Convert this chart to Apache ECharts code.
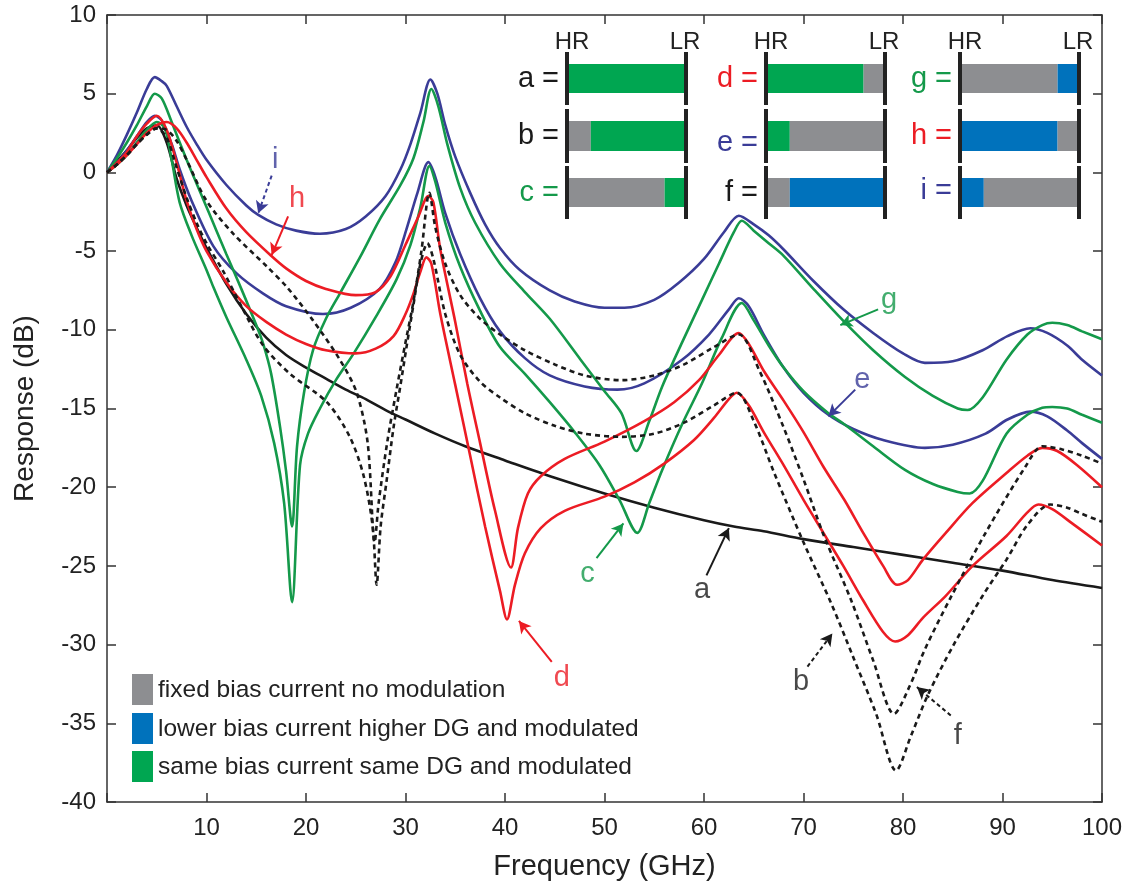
<!DOCTYPE html>
<html>
<head>
<meta charset="utf-8">
<script src="https://cdn.jsdelivr.net/npm/echarts@6/dist/echarts.min.js"></script>
<style>html,body{margin:0;padding:0;background:#fff}#c{width:1134px;height:886px}</style>
</head>
<body>
<div id="c"></div>
<script>
// ---------- data (GHz, dB) ----------
const xTicks = [0,10,20,30,40,50,60,70,80,90,100];
const yTicks = [-40,-35,-30,-25,-20,-15,-10,-5,0,5,10];

const curveA = [[0,0],[1,0.7],[2,1.4],[3,2.2],[4,2.8],[5,3.0],[6,1.9],[7,-0.4],[8,-2.1],[9,-3.5],[10,-4.8],[12,-7.1],[14,-9.0],[16,-10.5],[18,-11.6],[20,-12.4],[22,-13.1],[24,-13.8],[26,-14.4],[28,-15.1],[30,-15.7],[33,-16.6],[36,-17.4],[40,-18.3],[45,-19.4],[50,-20.4],[55,-21.3],[60,-22.1],[63,-22.5],[66,-22.8],[70,-23.3],[75,-23.8],[80,-24.3],[85,-24.8],[90,-25.3],[95,-25.9],[100,-26.4]];

const curveB = [[0,0],[1,0.5],[2,1.1],[3,1.8],[4,2.4],[5,2.8],[6,2.2],[7,0.3],[8,-1.6],[9,-3.2],[10,-4.5],[11.7,-6.3],[13.5,-8.5],[15.7,-11.0],[18.4,-12.8],[22.1,-14.6],[24.4,-16.8],[25.8,-19.3],[26.7,-22.5],[27.1,-26.2],[27.5,-22.5],[28.1,-19.6],[28.8,-16.2],[29.5,-13.5],[30.1,-11.1],[30.8,-8.4],[31.5,-5.8],[32.2,-4.5],[32.8,-5.5],[34,-9.0],[35.5,-11.6],[37.5,-13.3],[39.5,-14.3],[42,-15.3],[45,-16.1],[48,-16.6],[51.7,-16.8],[55,-16.6],[58,-15.9],[61,-14.8],[63.3,-14.0],[65,-15.8],[67,-19.0],[70,-23.5],[72.8,-27.4],[75,-30.8],[77.3,-34.4],[79.3,-38.0],[80.8,-35.8],[82.5,-33.2],[85.1,-30.0],[88.1,-26.8],[90.4,-24.6],[92.5,-22.4],[94.8,-21.1],[96.5,-21.3],[98,-21.7],[100,-22.2]];

const curveC = [[0,0],[1,0.5],[2,1.1],[3,1.9],[4,2.7],[5,3.2],[5.8,2.8],[6.5,0.8],[7.3,-1.9],[8.5,-4.0],[10,-6.2],[10.7,-7.3],[12,-9.2],[14,-11.9],[15.5,-14.2],[16.8,-17.2],[17.8,-21.0],[18.6,-27.3],[19.4,-18.6],[20.2,-16.6],[21.4,-15.0],[23,-13.2],[24.8,-11.5],[27,-9.2],[29.1,-6.8],[30.5,-4.6],[31.5,-2.2],[32.4,0.4],[33,-0.6],[34,-3.2],[35.5,-6.0],[37.5,-8.8],[39.5,-11.1],[42,-12.8],[44.5,-14.6],[47,-16.5],[49.5,-18.6],[51.5,-20.8],[53.3,-22.9],[54.5,-21.0],[55.8,-18.9],[57.8,-16.0],[59.8,-13.4],[61.8,-10.5],[63.8,-8.3],[65,-9.4],[66.5,-11.0],[68,-12.4],[70,-13.9],[72.5,-15.3],[74.1,-16.0],[77,-17.4],[80.2,-18.9],[83,-19.8],[85.5,-20.3],[86.7,-20.4],[88,-19.6],[90.4,-16.6],[92.5,-15.4],[94,-14.95],[95,-14.9],[96.5,-15.0],[98,-15.4],[100,-15.9]];

const curveD = [[0,0],[1,0.6],[2,1.3],[3,2.3],[4,3.1],[5,3.6],[6,2.7],[7,0.6],[8,-1.8],[9,-3.6],[10,-5.0],[12,-7.0],[14,-8.5],[16,-9.5],[18,-10.3],[20,-10.9],[22,-11.3],[25,-11.5],[27,-11.2],[28.8,-10.4],[30,-9.0],[30.8,-7.7],[31.5,-6.3],[32.1,-5.4],[32.6,-5.8],[33.5,-9.0],[35,-13.5],[36.5,-18.0],[38,-22.5],[39.5,-26.6],[40.2,-28.4],[41,-26.2],[42,-24.2],[43.6,-22.6],[46,-21.5],[50,-20.6],[53,-19.7],[56,-18.5],[59,-17.0],[61,-15.6],[62.5,-14.4],[63.3,-14.0],[64.5,-14.8],[66,-16.5],[68,-18.6],[70,-20.8],[72,-22.9],[74,-25.0],[76,-27.2],[78,-29.2],[79.2,-29.8],[80.5,-29.4],[82,-28.3],[84.3,-26.9],[87,-25.0],[90.4,-23.1],[92.5,-21.6],[93.6,-21.1],[95,-21.4],[97,-22.3],[100,-23.7]];

const curveE = [[0,0],[1,0.6],[2,1.4],[3,2.3],[4,3.2],[4.8,3.6],[5.5,3.3],[6.5,1.8],[7.3,0.2],[8.5,-1.8],[10.7,-4.7],[13,-6.4],[15.7,-7.7],[18,-8.5],[21.7,-9.0],[24.5,-8.6],[27.4,-7.4],[29,-5.7],[30.1,-3.6],[31.2,-1.3],[32.3,0.65],[33,-0.3],[34,-2.6],[35.5,-5.2],[37.5,-8.0],[39.5,-10.1],[42,-11.8],[44.5,-12.9],[48,-13.6],[51.3,-13.8],[54,-13.4],[57.8,-11.9],[60.5,-10.3],[62.5,-8.7],[63.5,-8.0],[64.5,-8.5],[66,-10.3],[68,-12.4],[70,-14.0],[72.5,-15.4],[75,-16.3],[78,-17.0],[82.2,-17.5],[85,-17.3],[88.3,-16.6],[90.5,-15.7],[92.8,-15.2],[94.5,-15.5],[96.5,-16.4],[98,-17.2],[100,-18.2]];

const curveF = [[0,0],[1,0.5],[2,1.1],[3,1.8],[4,2.4],[5,2.8],[6,2.7],[7,2.0],[8,0.8],[10,-1.8],[12.7,-3.9],[16.1,-6.0],[18.1,-7.3],[20.7,-9.4],[23.4,-11.9],[25.1,-14.0],[26.2,-17.2],[26.9,-23.5],[27.3,-21.0],[28.2,-17.0],[29.1,-13.8],[30,-10.8],[30.8,-8.2],[31.6,-5.0],[32.4,-1.3],[33,-3.5],[34,-5.8],[35.5,-7.8],[37.5,-9.3],[39.5,-10.3],[42,-11.3],[45,-12.2],[48,-12.9],[51.7,-13.2],[55,-12.9],[58,-12.2],[61,-11.1],[63.5,-10.3],[65.5,-12.5],[68,-16.2],[70,-19.5],[72,-23.0],[74.8,-27.2],[77,-31.0],[79.1,-34.4],[80.7,-32.6],[82.2,-30.3],[84.8,-27.0],[88.3,-22.9],[92.3,-18.7],[94,-17.4],[96,-17.6],[98,-18.0],[100,-18.5]];

const curveG = [[0,0],[1,0.9],[2,1.9],[3,3.0],[4,4.2],[4.8,5.0],[5.5,4.7],[6.5,3.2],[8,0.8],[9,-0.7],[10,-2.2],[11,-3.7],[12,-5.2],[13.5,-7.4],[15,-9.7],[15.7,-10.9],[16.5,-12.8],[17.4,-16.2],[18,-19.0],[18.6,-22.5],[19.1,-17.4],[19.8,-14.0],[20.7,-11.3],[22,-9.3],[23.4,-7.7],[25.5,-5.3],[27.4,-3.0],[29.5,-0.8],[30.8,0.9],[31.8,3.2],[32.6,5.3],[33.3,4.2],[34.2,1.8],[35.5,-1.0],[37,-3.2],[39.5,-5.8],[42,-7.6],[44.5,-9.3],[47.6,-11.9],[50,-13.9],[51.7,-15.3],[53.2,-17.7],[54.5,-15.8],[55.8,-13.6],[57.8,-10.8],[59.8,-8.1],[61.5,-5.8],[63,-3.8],[63.8,-3.07],[65,-3.7],[66.5,-4.5],[68,-5.3],[71,-7.4],[74.1,-9.5],[77,-11.3],[80.2,-13.0],[83,-14.2],[85.5,-15.0],[86.5,-15.1],[88,-14.3],[90.4,-11.9],[92.5,-10.3],[94,-9.7],[95,-9.55],[96.5,-9.7],[98,-10.1],[100,-10.6]];

const curveH = [[0,0],[1,0.5],[2,1.1],[3,1.8],[4,2.5],[5,3.0],[6,3.2],[7,2.8],[8,1.9],[9,0.8],[10,-0.3],[12,-2.3],[14,-3.8],[16.5,-5.3],[18,-6.1],[20,-6.9],[22,-7.4],[25,-7.8],[27,-7.6],[28.5,-6.6],[30,-4.6],[31.3,-2.8],[32.3,-1.5],[32.8,-1.9],[33.5,-4.9],[35,-9.5],[36.2,-13.4],[37.5,-17.2],[39,-21.5],[40.6,-25.1],[41.3,-22.6],[42.3,-20.4],[43.6,-19.3],[46,-18.2],[50,-17.1],[54,-15.8],[57,-14.6],[59.5,-13.2],[61.5,-11.6],[63.5,-10.2],[64.5,-10.9],[66,-12.6],[68,-14.5],[70,-16.5],[72,-18.7],[74.1,-20.8],[76,-22.9],[78,-25.0],[79.4,-26.2],[80.5,-25.9],[82,-24.6],[84.3,-22.9],[87,-21.0],[90.4,-19.1],[92.5,-18.0],[94,-17.5],[95.5,-17.7],[97.5,-18.6],[100,-20.0]];

const curveI = [[0,0],[1,1.1],[2,2.4],[3,3.8],[4,5.3],[4.8,6.05],[5.5,5.8],[6,5.5],[7,4.2],[8,2.9],[9,1.8],[10,0.8],[12,-0.8],[14,-2.1],[15.2,-2.7],[17,-3.3],[19,-3.7],[21.4,-3.9],[24,-3.6],[26,-2.8],[28,-1.5],[29.5,0.2],[30.5,1.8],[31.5,3.8],[32.5,5.9],[33.2,5.0],[34,3.0],[35,1.0],[36.5,-1.3],[38,-3.3],[39.5,-4.8],[41.5,-6.2],[44.5,-7.5],[47,-8.2],[50,-8.6],[52,-8.6],[55,-8.1],[57.5,-7.0],[60,-5.5],[62,-3.8],[63.5,-2.75],[65,-3.3],[66.5,-4.0],[68,-4.9],[71,-6.9],[74,-8.7],[77,-10.2],[80,-11.5],[82.2,-12.1],[85,-12.0],[88,-11.3],[90.5,-10.4],[92.8,-9.9],[94.5,-10.2],[96.5,-11.0],[98,-11.9],[100,-12.9]];

// curve annotations: [name, labelX, labelY, arrowFromX, arrowFromY, arrowToX, arrowToY, dashed]
const annotations = [
  ['i', 16.9, 0.8, 16.55, -0.2, 15.2, -2.6, true],
  ['h', 19.1, -1.7, 18.2, -2.8, 16.55, -5.25, false],
  ['g', 78.6, -8.1, 77.5, -8.7, 73.7, -9.7, false],
  ['e', 75.9, -13.2, 75.2, -13.8, 72.5, -15.5, false],
  ['c', 48.3, -25.5, 49.2, -24.5, 51.9, -22.3, false],
  ['a', 59.8, -26.5, 60.25, -25.6, 62.5, -22.6, false],
  ['d', 45.7, -32.1, 44.7, -31.1, 41.4, -28.5, false],
  ['b', 69.75, -32.4, 70.4, -31.4, 72.9, -29.3, true],
  ['f', 85.5, -35.8, 84.8, -34.5, 81.4, -32.7, true]
];

// inset composition: fractions of bar from HR to LR
const insetRows = [
  ['a', [['G',1.0]]],
  ['b', [['S',0.2],['G',0.8]]],
  ['c', [['S',0.82],['G',0.18]]],
  ['d', [['G',0.82],['S',0.18]]],
  ['e', [['G',0.2],['S',0.8]]],
  ['f', [['S',0.2],['B',0.8]]],
  ['g', [['S',0.82],['B',0.18]]],
  ['h', [['B',0.82],['S',0.18]]],
  ['i', [['B',0.2],['S',0.8]]]
];
const legendItems = [
  ['S','fixed bias current no modulation'],
  ['B','lower bias current higher DG and modulated'],
  ['G','same bias current same DG and modulated']
];

// ---------- styles ----------
const RED = '#ec1c24', NAVY = '#3a3c97', GRN = '#14994a', BLK = '#1a1a1a';
const fillCol = {S:'#8d8e91', B:'#0072bc', G:'#00a651'};
const curveColor = {a:BLK,b:BLK,c:GRN,d:RED,e:NAVY,f:BLK,g:GRN,h:RED,i:NAVY};
const FONT = '"Liberation Sans", Arial, sans-serif';

const chart = echarts.init(document.getElementById('c'), null, {renderer:'canvas'});

function lineSeries(name, data, dashed){
  return {
    name, type:'line', data, showSymbol:false, symbol:'none', smooth:0.3,
    lineStyle:{color:curveColor[name], width:2.6, type: dashed ? [5,4] : 'solid'},
    z: dashed ? 3 : 2
  };
}

const series = [
  lineSeries('a', curveA, false),
  lineSeries('i', curveI, false),
  lineSeries('e', curveE, false),
  lineSeries('g', curveG, false),
  lineSeries('c', curveC, false),
  lineSeries('h', curveH, false),
  lineSeries('d', curveD, false),
  lineSeries('b', curveB, true),
  lineSeries('f', curveF, true)
];

// arrows via markLine
series.push({
  type:'line', data:[], silent:true,
  markLine:{
    silent:true, symbol:['none','arrow'], symbolSize:[10,12], animation:false,
    label:{show:false},
    data: annotations.map(a => [
      {coord:[a[3],a[4]], lineStyle:{color:curveColor[a[0]], width:2, type: a[7] ? [4,3] : 'solid'}, itemStyle:{color:curveColor[a[0]]}},
      {coord:[a[5],a[6]]}
    ])
  }
});
// labels via scatter
series.push({
  type:'scatter', silent:true, symbolSize:2, itemStyle:{color:'rgba(0,0,0,0)'},
  data: annotations.map(a => ({value:[a[1],a[2]], name:a[0],
    label:{show:true, position:'inside', formatter:a[0], color:curveColor[a[0]], fontSize:29, fontFamily:FONT}})),
  z:5
});

// ---------- inset graphic ----------
const cols = [{hr:567, lr:686}, {hr:766, lr:885}, {hr:960, lr:1079}];
const rowsY = [[64,93],[121,151],[178,207]];
const labelYOffset = {e:7, i:-2};
const graphics = [];
cols.forEach((c, ci) => {
  graphics.push({type:'text', x:c.hr + 5, y:42, style:{text:'HR', fontSize:24, fontFamily:FONT, fill:'#222', align:'center', verticalAlign:'middle'}});
  graphics.push({type:'text', x:c.lr - 1, y:42, style:{text:'LR', fontSize:24, fontFamily:FONT, fill:'#222', align:'center', verticalAlign:'middle'}});
  for (let r = 0; r < 3; r++){
    const row = insetRows[ci*3 + r];
    const [y0, y1] = rowsY[r];
    let x = c.hr;
    const w = c.lr - c.hr;
    row[1].forEach(seg => {
      const sw = w * seg[1];
      graphics.push({type:'rect', shape:{x:x, y:y0, width:sw, height:y1-y0}, style:{fill:fillCol[seg[0]]}});
      x += sw;
    });
    graphics.push({type:'rect', shape:{x:c.hr-2, y:y0-12, width:4, height:(y1-y0)+24}, style:{fill:'#222'}});
    graphics.push({type:'rect', shape:{x:c.lr-2, y:y0-12, width:4, height:(y1-y0)+24}, style:{fill:'#222'}});
    const ly = (y0+y1)/2 + (labelYOffset[row[0]] || 0);
    graphics.push({type:'text', x:c.hr - 8, y:ly, style:{text:row[0] + ' =', fontSize:29, fontFamily:FONT, fill:curveColor[row[0]], align:'right', verticalAlign:'middle'}});
  }
});
// bottom-left legend
const legY = [674, 713, 751];
legendItems.forEach((it, k) => {
  graphics.push({type:'rect', shape:{x:132, y:legY[k], width:21, height:31}, style:{fill:fillCol[it[0]]}});
  graphics.push({type:'text', x:158, y:legY[k]+16, style:{text:it[1], fontSize:24.5, fontFamily:FONT, fill:'#222', verticalAlign:'middle'}});
});

const axisLineStyle = {color:'#333', width:1.5};
chart.setOption({
  animation:false,
  backgroundColor:'#fff',
  grid:{left:107, right:32, top:15, bottom:84, containLabel:false},
  xAxis:[
    {type:'value', min:0, max:100, interval:10, position:'bottom',
     axisLine:{show:true, onZero:false, lineStyle:axisLineStyle},
     axisTick:{show:true, inside:true, length:9, lineStyle:axisLineStyle},
     splitLine:{show:false},
     axisLabel:{fontSize:24, fontFamily:FONT, color:'#222', margin:14, formatter:v => v === 0 ? '' : String(v)},
     name:'Frequency (GHz)', nameLocation:'middle', nameGap:50,
     nameTextStyle:{fontSize:29, fontFamily:FONT, color:'#222'}},
    {type:'value', min:0, max:100, interval:10, position:'top',
     axisLine:{show:true, onZero:false, lineStyle:axisLineStyle},
     axisTick:{show:true, inside:true, length:9, lineStyle:axisLineStyle},
     splitLine:{show:false}, axisLabel:{show:false}}
  ],
  yAxis:[
    {type:'value', min:-40, max:10, interval:5, position:'left',
     axisLine:{show:true, onZero:false, lineStyle:axisLineStyle},
     axisTick:{show:true, inside:true, length:9, lineStyle:axisLineStyle},
     splitLine:{show:false},
     axisLabel:{fontSize:24, fontFamily:FONT, color:'#222', margin:11},
     name:'Response (dB)', nameLocation:'middle', nameGap:68,
     nameTextStyle:{fontSize:28, fontFamily:FONT, color:'#222'}},
    {type:'value', min:-40, max:10, interval:5, position:'right',
     axisLine:{show:true, onZero:false, lineStyle:axisLineStyle},
     axisTick:{show:true, inside:true, length:9, lineStyle:axisLineStyle},
     splitLine:{show:false}, axisLabel:{show:false}}
  ],
  series: series,
  graphic: graphics
});
</script>
</body>
</html>
